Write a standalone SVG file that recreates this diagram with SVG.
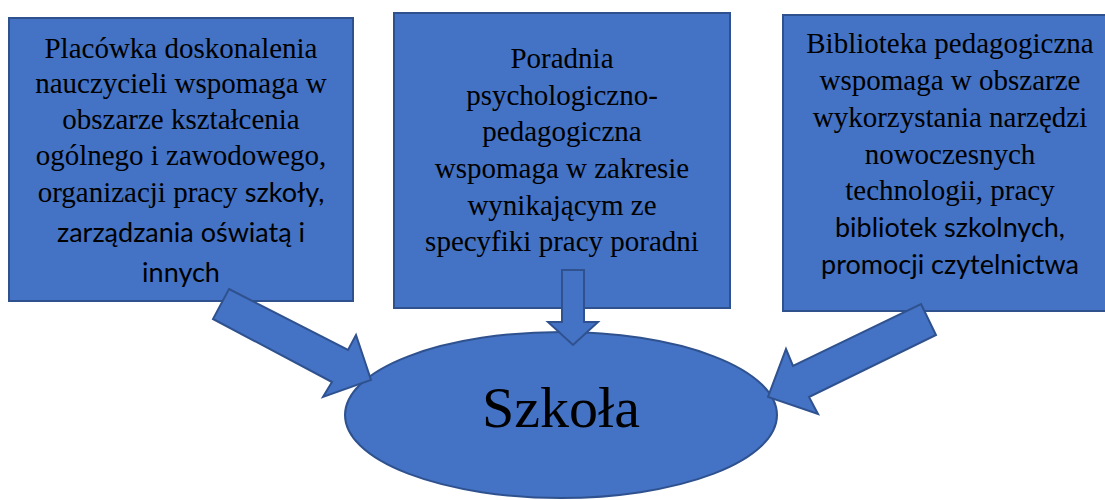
<svg xmlns="http://www.w3.org/2000/svg" width="1105" height="500" viewBox="0 0 1105 500">
<style>
.shape{fill:#4472C4;stroke:#2F528F;stroke-width:2;stroke-linejoin:miter}
.serif{font-family:"Liberation Serif","Times New Roman",serif;font-size:29px;fill:#000;text-anchor:middle}
.sans{font-family:Lato,"Liberation Sans",sans-serif;font-size:27px;fill:#000;text-anchor:middle}
.big{font-family:"Liberation Serif","Times New Roman",serif;font-size:58px;fill:#000;text-anchor:middle}
</style>
<rect width="1105" height="500" fill="#fff"/>
<g id="node-placowka">
<rect class="shape" x="9" y="18" width="344" height="283"/>
<text class="serif" x="181" y="58">Placówka doskonalenia</text>
<text class="serif" x="181" y="93">nauczycieli wspomaga w</text>
<text class="serif" x="181" y="129">obszarze kształcenia</text>
<text class="serif" x="181" y="165">ogólnego i zawodowego,</text>
<text class="serif" x="181" y="202">organizacji pracy <tspan class="sans" style="text-anchor:start">szkoły,</tspan></text>
<text class="sans" x="181" y="242">zarządzania oświatą i</text>
<text class="sans" x="181" y="282">innych</text>
</g>
<g id="node-poradnia">
<rect class="shape" x="394" y="13" width="336" height="295"/>
<text class="serif" x="562" y="68">Poradnia</text>
<text class="serif" x="562" y="105">psychologiczno-</text>
<text class="serif" x="562" y="141">pedagogiczna</text>
<text class="serif" x="562" y="178">wspomaga w zakresie</text>
<text class="serif" x="562" y="215">wynikającym ze</text>
<text class="serif" x="562" y="251">specyfiki pracy poradni</text>
</g>
<g id="node-biblioteka">
<rect class="shape" x="783" y="15" width="335" height="296"/>
<text class="serif" x="950" y="53">Biblioteka pedagogiczna</text>
<text class="serif" x="950" y="90">wspomaga w obszarze</text>
<text class="serif" x="950" y="127">wykorzystania narzędzi</text>
<text class="serif" x="950" y="164">nowoczesnych</text>
<text class="serif" x="950" y="200">technologii, pracy</text>
<text class="sans" x="950" y="237">bibliotek szkolnych,</text>
<text class="sans" x="950" y="274">promocji czytelnictwa</text>
</g>
<g id="node-szkola">
<ellipse class="shape" cx="561" cy="415" rx="216" ry="83"/>
<text class="big" x="561" y="427">Szkoła</text>
</g>
<g id="connectors">
<polygon class="shape" points="229,289 348,350 356,335 371,380 323,397 332,382 213,319"/>
<polygon class="shape" points="562,270 584,270 584,322 598,322 573,345 548,322 562,322"/>
<polygon class="shape" points="921,304 936,335 809,397 818,414 768,397 786,349 793,366"/>
</g>
</svg>
